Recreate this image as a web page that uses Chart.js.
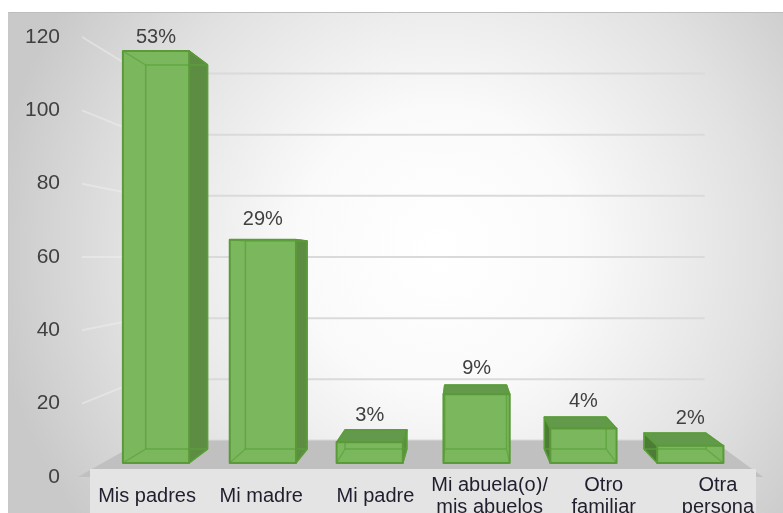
<!DOCTYPE html>
<html>
<head>
<meta charset="utf-8">
<script src="https://cdn.jsdelivr.net/npm/chart.js@4.4.1/dist/chart.umd.min.js"></script>
<style>
  html, body { margin: 0; padding: 0; background: #ffffff; }
  #wrap { width: 783px; height: 513px; position: relative; }
</style>
</head>
<body>
<div id="wrap"><canvas id="c" width="783" height="513"></canvas></div>
<script>
// ---- Data ----
const categories = ['Mis padres', 'Mi madre', 'Mi padre', ['Mi abuela(o)/', 'mis abuelos'], ['Otro', 'familiar'], ['Otra', 'persona']];
const values = [120, 65, 6, 20, 10, 5];
const percentLabels = ['53%', '29%', '3%', '9%', '4%', '2%'];
const yMin = 0;
const yMax = 120;
const yStep = 20;

// ---- 3D look (style constants) ----
const FONT = "'Liberation Sans', Arial, sans-serif";
const VP_X = 0.5606;   // vanishing point as fraction of chart area width
const VP_Y = 0.5;      // vanishing point as fraction of chart area height
const S_FRONT = 0.936; // depth scale of bar front faces
const S_BACK = 0.873;  // depth scale of bar back faces
const S_WALL = 0.834;  // depth scale of the back wall

function vp(chart) {
  const a = chart.chartArea;
  return [a.left + VP_X * (a.right - a.left), a.top + VP_Y * (a.bottom - a.top)];
}
function proj(chart, x, y, s) {
  const [vx, vy] = vp(chart);
  return [vx + s * (x - vx), vy + s * (y - vy)];
}
function poly(ctx, pts, fill, stroke, lw) {
  ctx.beginPath();
  ctx.moveTo(pts[0][0], pts[0][1]);
  for (let i = 1; i < pts.length; i++) ctx.lineTo(pts[i][0], pts[i][1]);
  ctx.closePath();
  if (fill) { ctx.fillStyle = fill; ctx.fill(); }
  if (stroke) { ctx.strokeStyle = stroke; ctx.lineWidth = lw || 1; ctx.stroke(); }
}
function line(ctx, p, q, color, lw) {
  ctx.beginPath();
  ctx.moveTo(p[0], p[1]);
  ctx.lineTo(q[0], q[1]);
  ctx.strokeStyle = color;
  ctx.lineWidth = lw;
  ctx.stroke();
}

const scenePlugin = {
  id: 'scene',
  beforeDraw(chart) {
    const ctx = chart.ctx;
    const a = chart.chartArea;
    const W = chart.width, H = chart.height;
    ctx.save();
    ctx.fillStyle = '#ffffff';
    ctx.fillRect(0, 0, W, H);
    // chart box with radial gradient
    const g = ctx.createRadialGradient(440, 250, 10, 440, 250, 450);
    g.addColorStop(0, '#ffffff');
    g.addColorStop(0.3, '#fafafa');
    g.addColorStop(0.7, '#e1e1e1');
    g.addColorStop(1, '#c9c9c9');
    ctx.fillStyle = g;
    ctx.fillRect(8, 12, W - 8, H - 12);
    line(ctx, [8, 12.5], [W, 12.5], '#bdbdbd', 1);
    line(ctx, [8.5, 12], [8.5, H], '#c8c8c8', 1);

    // gridlines: left wall + back wall
    const ys = chart.scales.y;
    ys.ticks.forEach(t => {
      const Y = ys.getPixelForValue(t.value);
      const f = [a.left + 4, Y];
      const bl = proj(chart, a.left, Y, S_WALL);
      const br = proj(chart, a.right - 10, Y, S_WALL);
      line(ctx, f, bl, 'rgba(240,240,240,0.5)', 2);
      line(ctx, bl, br, '#dadada', 2);
    });

    // floor
    const fl = proj(chart, a.left, a.bottom, 1);
    const fr = proj(chart, a.right, a.bottom, 1);
    const br = proj(chart, a.right, a.bottom, S_WALL);
    const bl = proj(chart, a.left, a.bottom, S_WALL);
    poly(ctx, [fl, fr, br, bl], '#c0c0c0');

    // front slab under the floor (label band)
    ctx.fillStyle = '#e4e4e4';
    ctx.fillRect(a.left + 12, a.bottom - 8, (a.right - 7) - (a.left + 12), H - (a.bottom - 8));
    ctx.restore();
  },
  afterDatasetsDraw(chart) {
    const ctx = chart.ctx;
    const [vx, vy] = vp(chart);
    const meta = chart.getDatasetMeta(0);
    ctx.save();
    ctx.lineJoin = 'round';
    meta.data.forEach((bar, i) => {
      const p = bar.getProps(['x', 'y', 'base', 'width'], true);
      const L = p.x - p.width / 2, R = p.x + p.width / 2;
      const fTL = proj(chart, L, p.y, S_FRONT), fTR = proj(chart, R, p.y, S_FRONT);
      const fBL = proj(chart, L, p.base, S_FRONT), fBR = proj(chart, R, p.base, S_FRONT);
      const bTL = proj(chart, L, p.y, S_BACK), bTR = proj(chart, R, p.y, S_BACK);
      const bBL = proj(chart, L, p.base, S_BACK), bBR = proj(chart, R, p.base, S_BACK);
      const edge = '#5a9a38';
      // side faces
      if (R < vx) poly(ctx, [fTR, bTR, bBR, fBR], '#5d8d42', edge, 1.5);
      if (L > vx) poly(ctx, [fTL, bTL, bBL, fBL], '#4c7c35', edge, 1.5);
      // top face
      if (p.y > vy) poly(ctx, [fTL, fTR, bTR, bTL], '#62994a', edge, 1.5);
      // front face
      poly(ctx, [fTL, fTR, fBR, fBL], '#7bb75d');
      // hidden edges seen through the translucent front
      const inner = 'rgba(92,160,60,0.75)';
      line(ctx, bTL, bTR, inner, 1.5);
      line(ctx, bBL, bBR, inner, 1.5);
      line(ctx, bTL, bBL, inner, 1.5);
      line(ctx, bTR, bBR, inner, 1.5);
      line(ctx, fBL, bBL, inner, 1.2);
      line(ctx, fBR, bBR, inner, 1.2);
      line(ctx, fTL, bTL, inner, 1.2);
      line(ctx, fTR, bTR, inner, 1.2);
      poly(ctx, [fTL, fTR, fBR, fBL], null, edge, 2);
      if (R < vx) line(ctx, fTR, bTR, edge, 1.5);

      // percentage label above the bar
      const mid = proj(chart, p.x, p.y, (S_FRONT + S_BACK) / 2);
      ctx.fillStyle = '#404040';
      ctx.font = '20px ' + FONT;
      ctx.textAlign = 'center';
      ctx.textBaseline = 'middle';
      ctx.fillText(percentLabels[i], proj(chart, p.x, p.y, S_FRONT)[0], mid[1] - 21);
    });
    ctx.restore();
  }
};

new Chart(document.getElementById('c'), {
  type: 'bar',
  data: {
    labels: categories,
    datasets: [{
      label: 'Respuestas',
      data: values,
      backgroundColor: 'rgba(0,0,0,0)',
      borderWidth: 0,
      categoryPercentage: 1,
      barPercentage: 0.62
    }]
  },
  options: {
    responsive: false,
    animation: false,
    devicePixelRatio: 1,
    layout: { padding: { top: 37, right: 20, left: 0, bottom: 0 } },
    plugins: { legend: { display: false }, tooltip: { enabled: false } },
    scales: {
      y: {
        min: yMin,
        max: yMax,
        grid: { display: false, drawTicks: false },
        border: { display: false },
        ticks: { stepSize: yStep, color: '#404040', padding: 18, font: { family: FONT, size: 21 } },
        afterFit(s) { s.width = 78; }
      },
      x: {
        grid: { display: false, drawTicks: false },
        border: { display: false },
        ticks: {
          color: '#1f1f2e', padding: 8, labelOffset: 12, crossAlign: 'center',
          maxRotation: 0, autoSkip: false,
          font: { family: FONT, size: 20, lineHeight: 1.1 }
        },
        afterFit(s) { s.height = 36; }
      }
    }
  },
  plugins: [scenePlugin]
});
</script>
</body>
</html>
